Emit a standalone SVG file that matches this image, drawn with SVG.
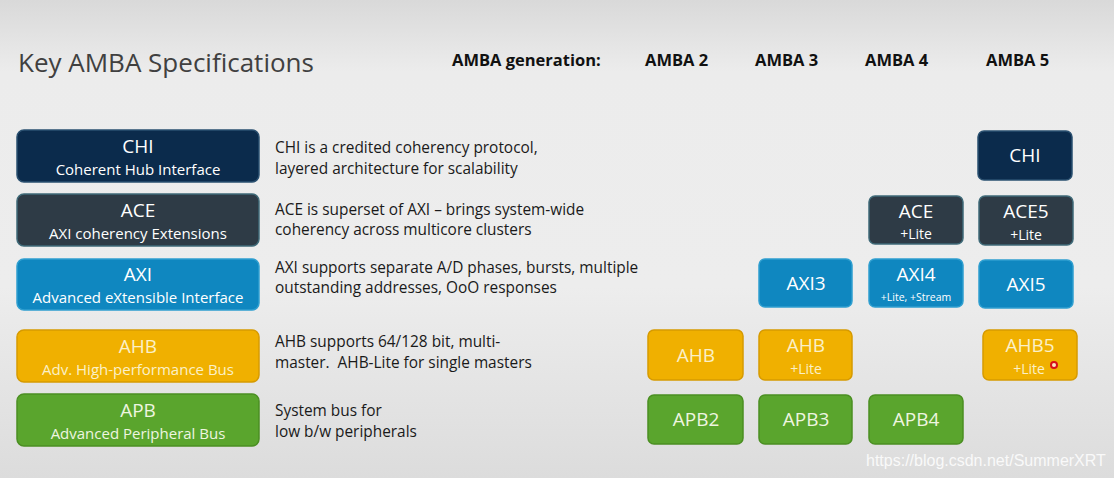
<svg xmlns="http://www.w3.org/2000/svg" width="1114" height="478" viewBox="0 0 1114 478">
<defs>
<linearGradient id="bg" x1="0" y1="0" x2="0" y2="1">
<stop offset="0" stop-color="#d9d9d9"/>
<stop offset="0.15" stop-color="#ececec"/>
<stop offset="0.6" stop-color="#ededed"/>
<stop offset="1" stop-color="#dcdcdc"/>
</linearGradient>
<style>
text{font-family:"Open Sans","Noto Sans","Liberation Sans",sans-serif}
.title{font-size:26px;fill:#404040}
.hdr{font-size:16.5px;font-weight:bold;fill:#111}
.desc{font-size:15.4px;fill:#1a1a1a}
.big{font-size:19px;text-anchor:middle}
.sub{font-size:15px;text-anchor:middle}
.small{font-size:14px;text-anchor:middle}
.tiny{font-size:10.5px;text-anchor:middle}
.chi rect{fill:#0b2b4c;stroke:#2a5070;stroke-width:1.5}
.ace rect{fill:#2e3b46;stroke:#3f6a78;stroke-width:1.5}
.axi rect{fill:#0f87c0;stroke:#2f9fd0;stroke-width:1.5}
.ahb rect{fill:#f0b000;stroke:#d69a00;stroke-width:1.5}
.apb rect{fill:#5aa52d;stroke:#4b8f22;stroke-width:1.5}
.chi text,.ace text,.axi text{fill:#ffffff}
.ahb text{fill:#fbf0c8}
.apb text{fill:#eef5e0}
</style>
</defs>
<rect x="0" y="0" width="1114" height="478" fill="url(#bg)"/>
<text class="title" x="18" y="72">Key AMBA Specifications</text>
<g id="header">
<text class="hdr" x="452" y="66">AMBA generation:</text>
<text class="hdr" x="645" y="66">AMBA 2</text>
<text class="hdr" x="755" y="66">AMBA 3</text>
<text class="hdr" x="865" y="66">AMBA 4</text>
<text class="hdr" x="986" y="66">AMBA 5</text>
</g>
<g id="chi-main" class="chi"><rect x="17" y="130" width="242" height="52" rx="7"/><text class="big" x="138" y="153">CHI</text><text class="sub" x="138" y="175">Coherent Hub Interface</text></g>
<g id="ace-main" class="ace"><rect x="17" y="194" width="242" height="52" rx="7"/><text class="big" x="138" y="217">ACE</text><text class="sub" x="138" y="239">AXI coherency Extensions</text></g>
<g id="axi-main" class="axi"><rect x="17" y="259" width="242" height="51" rx="7"/><text class="big" x="138" y="281">AXI</text><text class="sub" x="138" y="303">Advanced eXtensible Interface</text></g>
<g id="ahb-main" class="ahb"><rect x="17" y="330" width="242" height="52" rx="7"/><text class="big" x="138" y="353">AHB</text><text class="sub" x="138" y="375">Adv. High-performance Bus</text></g>
<g id="apb-main" class="apb"><rect x="17" y="394" width="242" height="52" rx="7"/><text class="big" x="138" y="417">APB</text><text class="sub" x="138" y="439">Advanced Peripheral Bus</text></g>
<g id="descriptions">
<text class="desc" x="275" y="153">CHI is a credited coherency protocol,</text>
<text class="desc" x="275" y="174">layered architecture for scalability</text>
<text class="desc" x="275" y="215">ACE is superset of AXI – brings system-wide</text>
<text class="desc" x="275" y="235">coherency across multicore clusters</text>
<text class="desc" x="275" y="273">AXI supports separate A/D phases, bursts, multiple</text>
<text class="desc" x="275" y="293">outstanding addresses, OoO responses</text>
<text class="desc" x="275" y="347">AHB supports 64/128 bit, multi-</text>
<text class="desc" x="275" y="368">master.&#160; AHB-Lite for single masters</text>
<text class="desc" x="275" y="416">System bus for</text>
<text class="desc" x="275" y="437">low b/w peripherals</text>
</g>
<g id="chi5" class="chi"><rect x="978" y="131" width="94" height="49" rx="6"/><text class="big" x="1025" y="162">CHI</text></g>
<g id="ace4" class="ace"><rect x="869" y="196" width="94" height="48" rx="6"/><text class="big" x="916" y="218">ACE</text><text class="small" x="916" y="239">+Lite</text></g>
<g id="ace5" class="ace"><rect x="979" y="196" width="94" height="49" rx="6"/><text class="big" x="1026" y="218">ACE5</text><text class="small" x="1026" y="240">+Lite</text></g>
<g id="axi3" class="axi"><rect x="759" y="259" width="93" height="48" rx="6"/><text class="big" x="806" y="290">AXI3</text></g>
<g id="axi4" class="axi"><rect x="869" y="259" width="94" height="48" rx="6"/><text class="big" x="916" y="281">AXI4</text><text class="tiny" x="916" y="301">+Lite, +Stream</text></g>
<g id="axi5" class="axi"><rect x="979" y="260" width="94" height="48" rx="6"/><text class="big" x="1026" y="291">AXI5</text></g>
<g id="ahb2" class="ahb"><rect x="648" y="330" width="95" height="50" rx="6"/><text class="big" x="696" y="362">AHB</text></g>
<g id="ahb3" class="ahb"><rect x="759" y="330" width="93" height="50" rx="6"/><text class="big" x="806" y="352">AHB</text><text class="small" x="806" y="374">+Lite</text></g>
<g id="ahb5" class="ahb"><rect x="983" y="330" width="94" height="50" rx="6"/><text class="big" x="1030" y="352">AHB5</text><text class="small" x="1029" y="374">+Lite</text><circle cx="1054" cy="365" r="3" fill="#fbe8c0" stroke="#d8101a" stroke-width="2"/></g>
<g id="apb2" class="apb"><rect x="648" y="395" width="95" height="49" rx="6"/><text class="big" x="696" y="426">APB2</text></g>
<g id="apb3" class="apb"><rect x="759" y="395" width="93" height="49" rx="6"/><text class="big" x="806" y="426">APB3</text></g>
<g id="apb4" class="apb"><rect x="869" y="395" width="94" height="49" rx="6"/><text class="big" x="916" y="426">APB4</text></g>
<g id="connectors"></g>
<text x="866" y="466" style="font-family:'Liberation Sans',Arial,sans-serif;font-size:16px;fill:#ffffff;fill-opacity:0.85">https://blog.csdn.net/SummerXRT</text>
</svg>
